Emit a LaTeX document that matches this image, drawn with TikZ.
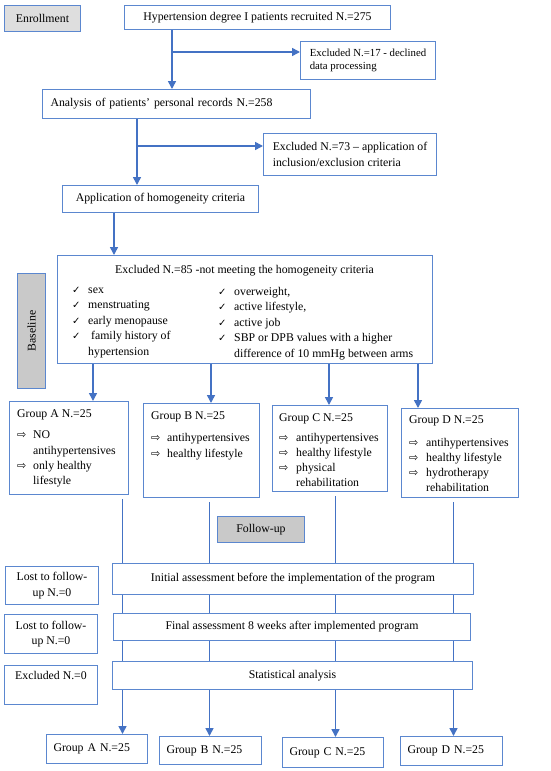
\documentclass[tikz,border=0pt]{standalone}
\usepackage{fontspec}
\setmainfont{Liberation Serif}
\newfontfamily\symfnt{DejaVu Sans}
\usetikzlibrary{arrows.meta}
\definecolor{lineblue}{HTML}{4472C4}
\definecolor{boxblue}{HTML}{5B87CF}
\definecolor{grayfill}{HTML}{C9C9C9}
\definecolor{lightfill}{HTML}{DEDEDE}
\newcommand\chk{\makebox[16pt][l]{\symfnt\fontsize{10}{10}\selectfont ✓}}
\newcommand\grarr{\makebox[16pt][l]{\symfnt\fontsize{11}{11}\selectfont ⇨}}
\newcommand\grarrw{\makebox[17pt][l]{\symfnt\fontsize{11}{11}\selectfont ⇨}}
\newcommand\ind{\hspace*{16pt}}
\tikzset{
  box/.style={draw=boxblue, line width=1pt, fill=white, inner sep=0pt, anchor=north west},
  gbox/.style={box, fill=grayfill},
  conn/.style={draw=lineblue, line width=1.6pt},
  arr/.style={conn, -{Triangle[length=8pt,width=8pt]}},
  txt/.style={inner sep=0pt, align=left, anchor=base west},
}
\begin{document}
\begin{tikzpicture}[x=1pt, y=-1pt, font=\fontsize{11.8}{15.5}\selectfont]
\fill[white] (0,0) rectangle (550,771);
\useasboundingbox (0,0) rectangle (550,771);

% ---- enrollment part
\node[box, fill=lightfill, minimum width=76pt, minimum height=26pt] (enroll) at (4,5) {Enrollment};
\node[box, minimum width=266pt, minimum height=24pt] (recruit) at (124,5) {Hypertension degree I patients recruited N.=275};
\node[box, minimum width=135pt, minimum height=38pt, align=left, font=\fontsize{10.8}{13}\selectfont] (ex17) at (300,41) {Excluded N.=17 - declined\\data processing};
\node[box, minimum width=268pt, minimum height=29pt, text width=252pt, align=left] (analysis) at (42,89) {Analysis of patients’ personal records N.=258};
\node[box, minimum width=173pt, minimum height=42pt, align=left] (ex73) at (263,133) {Excluded N.=73 – application of\\inclusion/exclusion criteria};
\node[box, minimum width=196pt, minimum height=27pt] (homog) at (62,185) {Application of homogeneity criteria};

% ---- baseline
\node[box, minimum width=375pt, minimum height=108pt] (ex85) at (57,255) {};
\node[inner sep=0pt, anchor=base] (ex85t) at (244.5,273) {Excluded N.=85 -not meeting the homogeneity criteria};
\node[txt] (ex85l) at (72,355) {\chk sex\\\chk menstruating\\\chk early menopause\\\chk\ family history of\\\ind hypertension};
\node[txt] (ex85r) at (218,357) {\chk overweight,\\\chk active lifestyle,\\\chk active job\\\chk SBP or DPB values with a higher\\\ind difference of 10 mmHg between arms};
\node[gbox, minimum width=28pt, minimum height=115pt] (baseline) at (17,273) {\rotatebox{90}{Baseline}};

% ---- groups
\node[box, minimum width=119pt, minimum height=93pt] (gA) at (9,401) {};
\node[box, minimum width=116pt, minimum height=94pt] (gB) at (143,403) {};
\node[box, minimum width=115pt, minimum height=86pt] (gC) at (272,405) {};
\node[box, minimum width=117pt, minimum height=89pt] (gD) at (401,408) {};
\node[txt, font=\fontsize{11.8}{15.3}\selectfont] (gAt) at (17,484.7) {Group A N.=25\\[6.5pt]\grarr NO\\\ind antihypertensives\\\grarr only healthy\\\ind lifestyle};
\node[txt, font=\fontsize{11.8}{15.3}\selectfont] (gBt) at (151,457.1) {Group B N.=25\\[7.5pt]\grarr antihypertensives\\\grarr healthy lifestyle};
\node[txt, font=\fontsize{11.8}{15.1}\selectfont] (gCt) at (279,486.4) {Group C N.=25\\[5pt]\grarrw antihypertensives\\\grarrw healthy lifestyle\\\grarrw physical\\\hspace*{17pt}rehabilitation};
\node[txt, font=\fontsize{11.8}{14.8}\selectfont] (gDt) at (409,491.2) {Group D N.=25\\[9pt]\grarrw antihypertensives\\\grarrw healthy lifestyle\\\grarrw hydrotherapy\\\hspace*{17pt}rehabilitation};

% ---- follow-up
\node[gbox, minimum width=87pt, minimum height=26pt] (follow) at (217,516) {Follow-up};
\node[box, minimum width=361pt, minimum height=31pt] (init) at (112,563) {\raisebox{4pt}{Initial assessment before the implementation of the program}};
\node[box, minimum width=93pt, minimum height=38pt, align=center] (lost1) at (5,566) {Lost to follow-\\up N.=0};
\node[box, minimum width=357pt, minimum height=27pt] (final) at (113,613) {Final assessment 8 weeks after implemented program};
\node[box, minimum width=93pt, minimum height=39pt, align=center] (lost2) at (4,614) {Lost to follow-\\up N.=0};
\node[box, minimum width=360pt, minimum height=28pt] (stat) at (112,661) {Statistical analysis};
\node[box, minimum width=93pt, minimum height=39pt, align=center] (excl0) at (4,665) {Excluded N.=0\\\strut};

\node[box, minimum width=101pt, minimum height=29pt, text width=87pt, align=left] (bA) at (46,734) {Group A N.=25};
\node[box, minimum width=102pt, minimum height=28pt, text width=88pt, align=left] (bB) at (159,736) {Group B N.=25};
\node[box, minimum width=101pt, minimum height=30pt, text width=87pt, align=left] (bC) at (282,737) {Group C N.=25};
\node[box, minimum width=102pt, minimum height=29pt, text width=88pt, align=left] (bD) at (400,736) {Group D N.=25};

% ---- connector coordinates
\coordinate (k1) at (172,0);
\coordinate (k2) at (137,0);
\coordinate (k3) at (114,0);
\coordinate (b1) at (172,52);
\coordinate (b2) at (137,146);
\coordinate (ga) at (93,0);
\coordinate (gb) at (211,0);
\coordinate (gc) at (329,0);
\coordinate (gd) at (418,0);
\coordinate (va) at (122.5,0);
\coordinate (vb) at (209.5,0);
\coordinate (vc) at (335.5,0);
\coordinate (vd) at (453.5,0);

\draw[arr] (k1 |- recruit.south) -- (k1 |- analysis.north);
\draw[arr] (b1) -- (b1 -| ex17.west);
\draw[arr] (k2 |- analysis.south) -- (k2 |- homog.north);
\draw[arr] (b2) -- (b2 -| ex73.west);
\draw[arr] (k3 |- homog.south) -- (k3 |- ex85.north);

\draw[arr] (ga |- ex85.south) -- (ga |- gA.north);
\draw[arr] (gb |- ex85.south) -- (gb |- gB.north);
\draw[arr] (gc |- ex85.south) -- (gc |- gC.north);
\draw[arr] (gd |- ex85.south) -- (gd |- gD.north);

\foreach \v/\g/\b in {va/gA/bA, vb/gB/bB, vc/gC/bC, vd/gD/bD} {
  \draw[conn] ([yshift=-4pt]\v |- \g.south) -- (\v |- init.north);
  \draw[conn] (\v |- init.south) -- (\v |- final.north);
  \draw[conn] (\v |- final.south) -- (\v |- stat.north);
  \draw[arr] (\v |- stat.south) -- (\v |- \b.north);
}
\end{tikzpicture}
\end{document}
